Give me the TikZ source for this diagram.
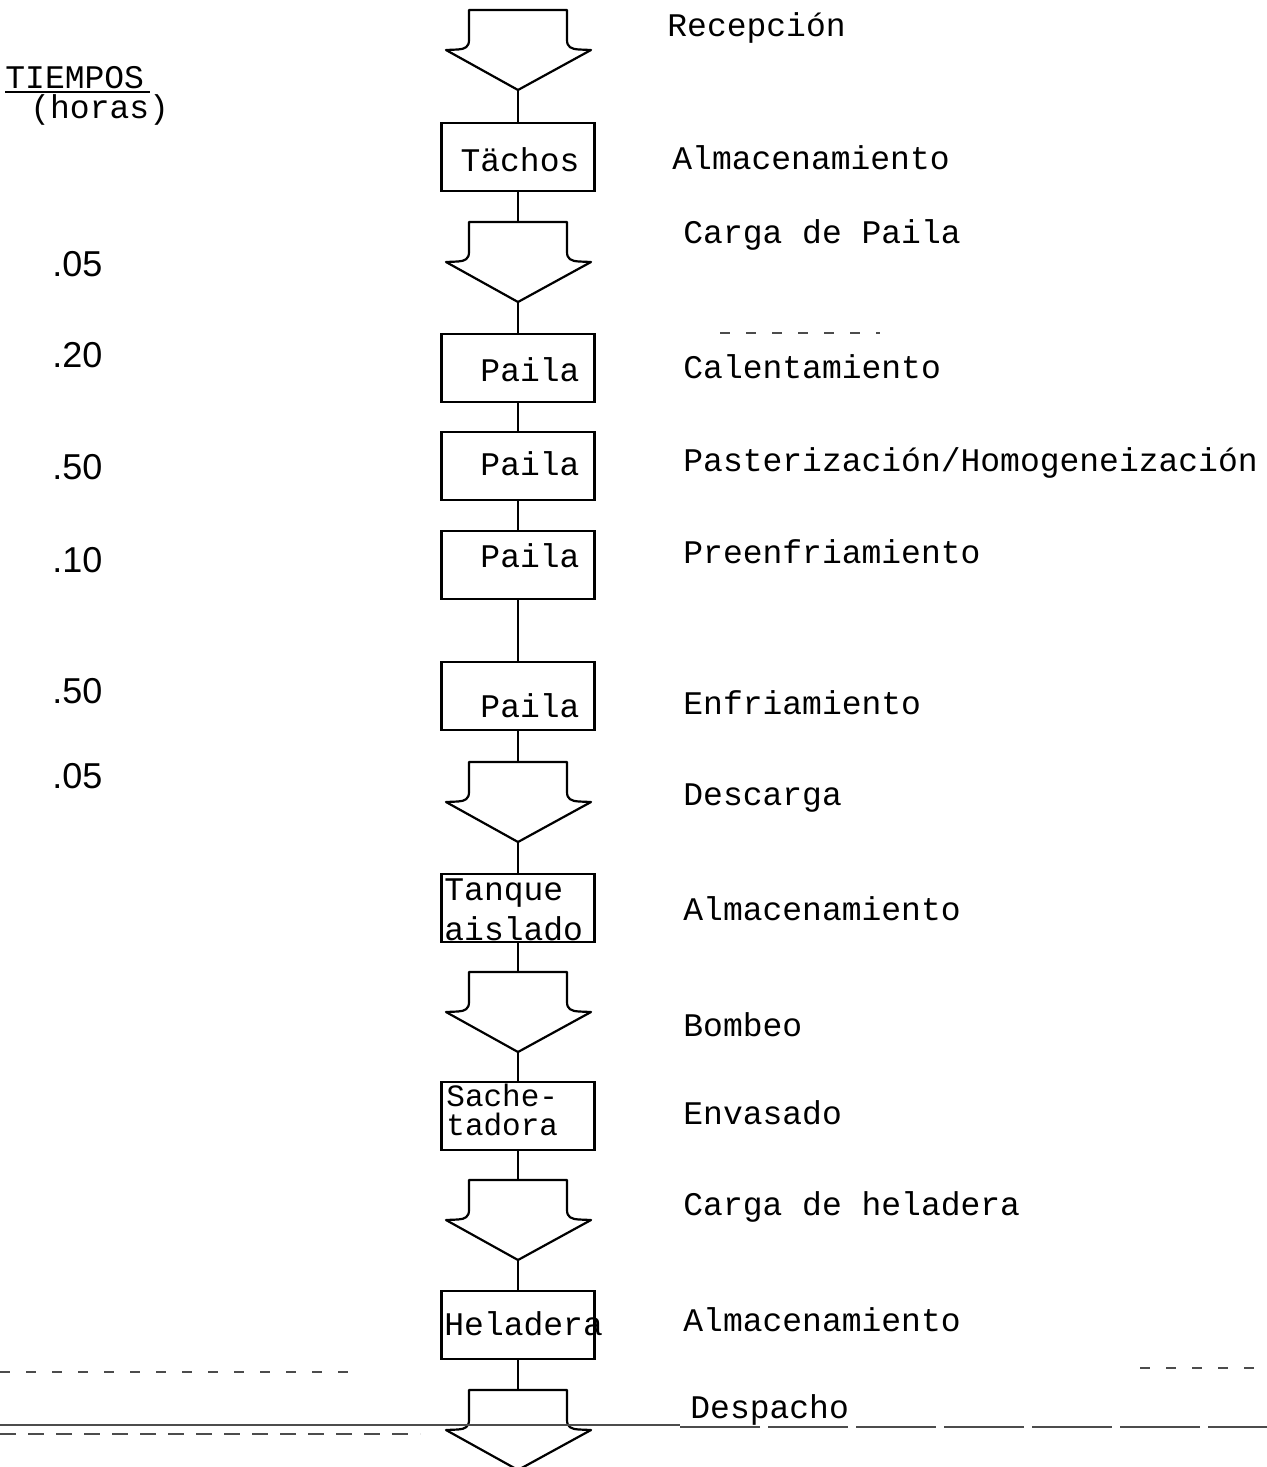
\documentclass[tikz,border=0pt]{standalone}
\usepackage{fontspec}
\setmonofont{Liberation Mono}
\newfontfamily\numfont{Liberation Sans}
\begin{document}
\begin{tikzpicture}[x=0.5pt,y=-0.5pt,
  ln/.style={line width=1.1pt,black},
  box/.style={draw,line width=1.1pt,minimum width=76.5pt,minimum height=34pt,inner sep=0pt},
  tw/.style={font=\ttfamily\fontsize{16.5}{19}\selectfont,inner sep=0pt},
  num/.style={font=\numfont\fontsize{18}{20}\selectfont,inner sep=0pt,anchor=west},
  lab/.style={tw,anchor=west},
  scan/.style={line width=0.6pt,black!70},
  flowarrow/.pic={
    \draw[ln,line join=round] (-49,0) -- (-49,30) .. controls (-49,37) and (-53,39) .. (-60,39.5)
      -- (-72,40) -- (0,80) -- (73,40) -- (61,39.5) .. controls (53,39) and (49,37) .. (49,30)
      -- (49,0) -- cycle;
    \coordinate (-top) at (0,0);
    \coordinate (-tip) at (0,80);
  }]
\useasboundingbox (0,0) rectangle (1267,1467);

% header
\node[tw,anchor=west] (tiempos) at (5,78) {TIEMPOS};
\draw[line width=0.8pt] (5,92) -- (150,92);
\node[tw,anchor=west] (horas) at (30,110) {(horas)};

% times
\node[num] (t1) at (52,264) {.05};
\node[num] (t2) at (52,355) {.20};
\node[num] (t3) at (52,467) {.50};
\node[num] (t4) at (52,560) {.10};
\node[num] (t5) at (52,691) {.50};
\node[num] (t6) at (52,776) {.05};

% flow
\pic (a1) at (518,10) {flowarrow};
\node[box] (b1) at (518,157) {};
\node[tw] (b1t) at (520,160) {Tächos};
\pic (a2) at (518,222) {flowarrow};
\node[box] (b2) at (518,368) {};
\node[tw] (b2t) at (530,370) {Paila};
\node[box] (b3) at (518,466) {};
\node[tw] (b3t) at (530,464) {Paila};
\node[box] (b4) at (518,565) {};
\node[tw] (b4t) at (530,556) {Paila};
\node[box] (b5) at (518,696) {};
\node[tw] (b5t) at (530,706) {Paila};
\pic (a3) at (518,762) {flowarrow};
\node[box] (b6) at (518,908) {};
\node[tw,anchor=north west,align=left,font=\ttfamily\fontsize{16.5}{20}\selectfont] (b6t) at (444,878) {Tanque\\aislado};
\pic (a4) at (518,972) {flowarrow};
\node[box] (b7) at (518,1116) {};
\node[tw,anchor=north west,align=left,font=\ttfamily\fontsize{15.5}{14.5}\selectfont] (b7t) at (446,1084) {Sache-\\tadora};
\pic (a5) at (518,1180) {flowarrow};
\node[box] (b8) at (518,1325) {};
\node[tw,anchor=west] (b8t) at (444,1324) {Heladera};
\pic (a6) at (518,1390) {flowarrow};

\draw[ln] (a1-tip) -- (b1.north);
\draw[ln] (b1.south) -- (a2-top);
\draw[ln] (a2-tip) -- (b2.north);
\draw[ln] (b2.south) -- (b3.north);
\draw[ln] (b3.south) -- (b4.north);
\draw[ln] (b4.south) -- (b5.north);
\draw[ln] (b5.south) -- (a3-top);
\draw[ln] (a3-tip) -- (b6.north);
\draw[ln] (b6.south) -- (a4-top);
\draw[ln] (a4-tip) -- (b7.north);
\draw[ln] (b7.south) -- (a5-top);
\draw[ln] (a5-tip) -- (b8.north);
\draw[ln] (b8.south) -- (a6-top);

% labels
\node[lab] (l1) at (667,28) {Recepción};
\node[lab] (l2) at (672,158) {Almacenamiento};
\node[lab] (l3) at (683,235) {Carga de Paila};
\node[lab] (l4) at (683,367) {Calentamiento};
\node[lab] (l5) at (683,463) {Pasterización/Homogeneización};
\node[lab] (l6) at (683,552) {Preenfriamiento};
\node[lab] (l7) at (683,703) {Enfriamiento};
\node[lab] (l8) at (683,798) {Descarga};
\node[lab] (l9) at (683,909) {Almacenamiento};
\node[lab] (l10) at (683,1025) {Bombeo};
\node[lab] (l11) at (683,1113) {Envasado};
\node[lab] (l12) at (683,1207) {Carga de heladera};
\node[lab] (l13) at (683,1320) {Almacenamiento};
\node[lab] (l14) at (690,1410) {Despacho};

% scan artefact lines
\draw[scan] (0,1425) -- (680,1425);
\draw[scan,dash pattern=on 40pt off 4pt] (680,1427) -- (1267,1427);
\draw[scan,dash pattern=on 8pt off 6pt] (0,1434) -- (420,1434);
\draw[scan,dash pattern=on 5pt off 8pt] (0,1372) -- (360,1372);
\draw[scan,dash pattern=on 5pt off 8pt] (1140,1368) -- (1267,1368);
\draw[scan,dash pattern=on 5pt off 8pt] (720,333) -- (880,333);
\end{tikzpicture}
\end{document}
